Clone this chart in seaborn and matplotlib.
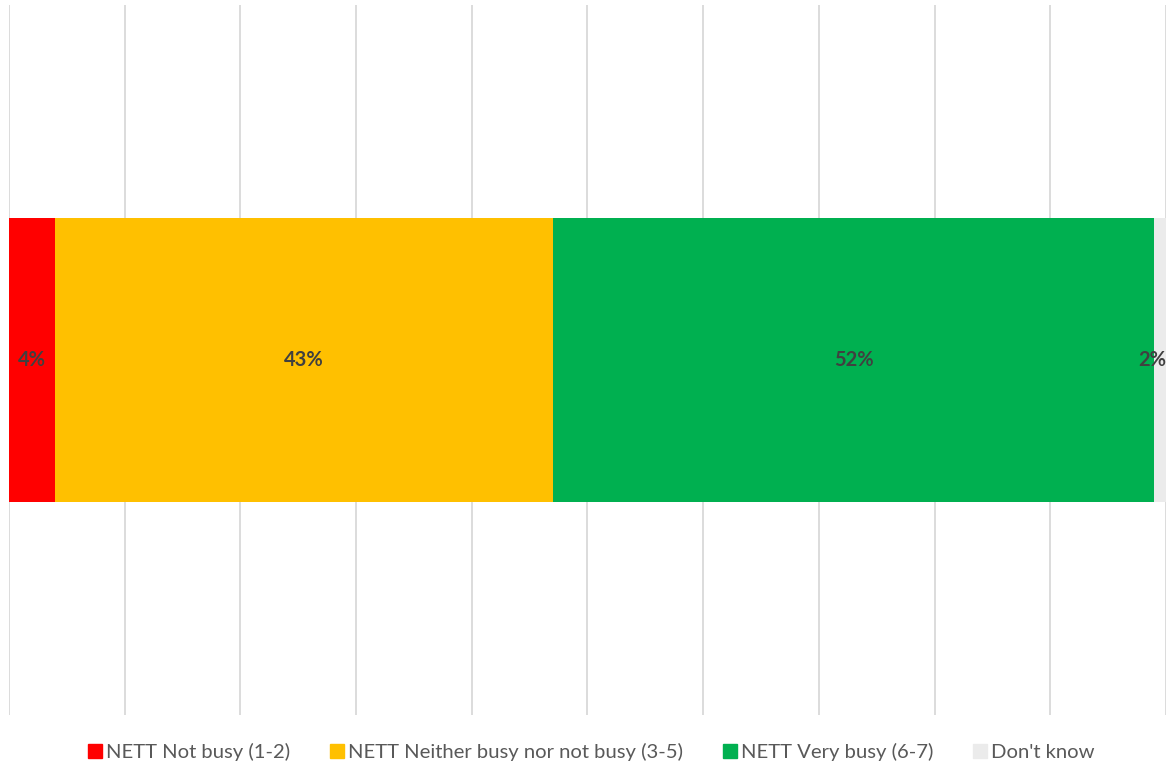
import matplotlib
matplotlib.use("Agg")
import matplotlib.pyplot as plt
from matplotlib.lines import Line2D
import seaborn as sns
import numpy as np

# Survey responses (share of respondents, %)
categories = ["NETT Not busy (1-2)", "NETT Neither busy nor not busy (3-5)",
              "NETT Very busy (6-7)", "Don't know"]
values = [4, 43, 52, 2]
colors = ["#FF0000", "#FFC000", "#00B050", "#EBEBEB"]
x_ticks = list(range(0, 101, 10))

sns.set_theme(style="white")
plt.rcParams["font.family"] = ["Lato", "DejaVu Sans"]

fig = plt.figure(figsize=(11.66, 7.67), dpi=100)
ax = fig.add_axes([0.0077, 0.0678, 0.9923, 0.9257])

ends = np.cumsum(values)
starts = ends - np.array(values)

# Stacked bar: draw cumulative totals from the largest down so each segment shows
for i in range(len(values) - 1, -1, -1):
    sns.barplot(x=[ends[i]], y=["All"], orient="h", color=colors[i],
                saturation=1, width=0.4, ax=ax, linewidth=0)

ax.set_xlim(0, 100)
ax.set_ylim(0.5, -0.5)
ax.set_xticks(x_ticks)
ax.set_yticks([])
ax.xaxis.grid(True, color="#D9D9D9", linewidth=1.3)
ax.set_axisbelow(True)
ax.tick_params(axis="x", length=0, labelbottom=False)
ax.set_xlabel("")
ax.set_ylabel("")
for s in ax.spines.values():
    s.set_visible(False)

# Value labels centred on each segment; the last one sits inside the right edge
for s0, e0, v in zip(starts, ends, values):
    if e0 > 100:
        ax.text(100, 0, f"{v}%", ha="right", va="center", fontsize=14.5,
                fontweight="bold", color="#404040")
    else:
        ax.text((s0 + e0) / 2, 0, f"{v}%", ha="center", va="center",
                fontsize=14.5, fontweight="bold", color="#404040")

handles = [Line2D([], [], marker="s", linestyle="none", markersize=9.5,
                  markerfacecolor=c, markeredgecolor=c) for c in colors]
fig.legend(handles, categories, loc="center", ncol=4,
           bbox_to_anchor=(0.506, 0.0195), frameon=False, fontsize=14.6,
           labelcolor="#595959", handletextpad=0.1, columnspacing=1.85,
           handlelength=0.9)

fig.savefig("out.png", dpi=100)
